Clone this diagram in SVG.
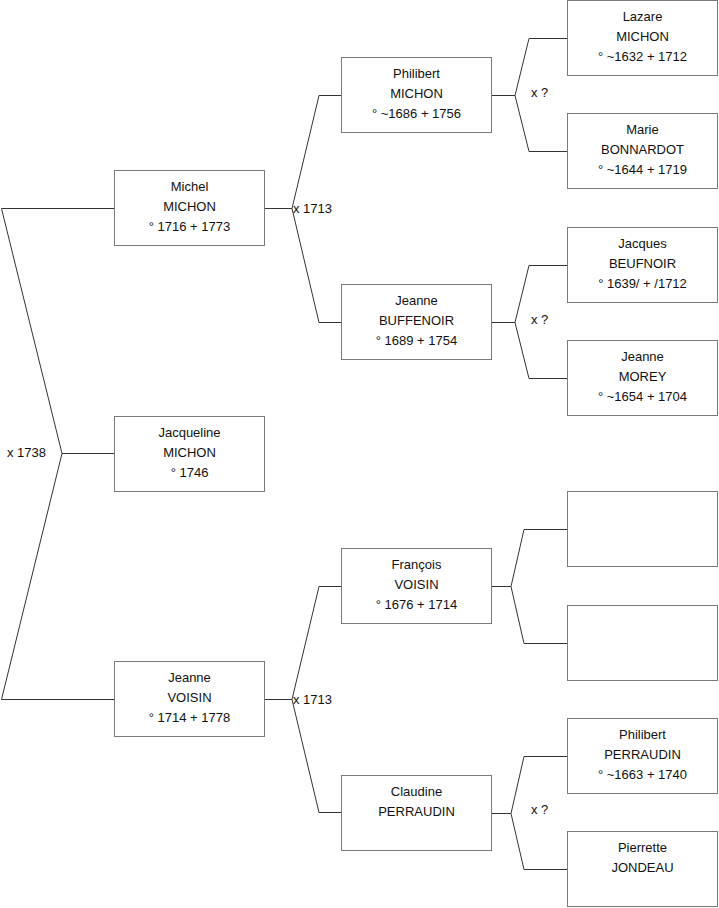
<svg xmlns="http://www.w3.org/2000/svg" width="719" height="908" viewBox="0 0 719 908">
<style>
.box{fill:#fff;stroke:#7a7a7a;stroke-width:1}
.t{font-family:"Liberation Sans",Arial,sans-serif;font-size:13px;fill:#111;text-anchor:middle}
.l{font-family:"Liberation Sans",Arial,sans-serif;font-size:13px;fill:#111}
.c{fill:none;stroke:#333;stroke-width:1}
</style>
<rect width="719" height="908" fill="#fff"/>
<g id="connectors">
<path class="c" d="M114,208.5 H1.5 L62,453.5 L1.5,699.5 H114 M62,453.5 H114"/>
<path class="c" d="M265,208.5 H292 M341,95.5 H319 L292,208.5 L319,322.5 H341"/>
<path class="c" d="M265,699.5 H292 M341,586.5 H319 L292,699.5 L319,812.5 H341"/>
<path class="c" d="M492,95.5 H515 M567,38.5 H529 L515,95.5 L529,151.5 H567"/>
<path class="c" d="M492,322.5 H515 M567,265.5 H529 L515,322.5 L529,378.5 H567"/>
<path class="c" d="M492,586.5 H511 M567,529.5 H524 L511,586.5 L524,643.5 H567"/>
<path class="c" d="M492,813.5 H511 M567,756.5 H524 L511,813.5 L524,869.5 H567"/>
<text class="l" x="7" y="457">x 1738</text>
<text class="l" x="293" y="213">x 1713</text>
<text class="l" x="293" y="704">x 1713</text>
<text class="l" x="531" y="97">x ?</text>
<text class="l" x="531" y="324">x ?</text>
<text class="l" x="531" y="814">x ?</text>
</g>
<g id="michel">
<rect class="box" x="114.5" y="170.5" width="150" height="75"/>
<text class="t" x="189.5" y="191">Michel</text>
<text class="t" x="189.5" y="211">MICHON</text>
<text class="t" x="189.5" y="231">° 1716 + 1773</text>
</g>
<g id="jacqueline">
<rect class="box" x="114.5" y="416.5" width="150" height="75"/>
<text class="t" x="189.5" y="437">Jacqueline</text>
<text class="t" x="189.5" y="457">MICHON</text>
<text class="t" x="189.5" y="477">° 1746</text>
</g>
<g id="jeanne-voisin">
<rect class="box" x="114.5" y="661.5" width="150" height="75"/>
<text class="t" x="189.5" y="682">Jeanne</text>
<text class="t" x="189.5" y="702">VOISIN</text>
<text class="t" x="189.5" y="722">° 1714 + 1778</text>
</g>
<g id="philibert-michon">
<rect class="box" x="341.5" y="57.5" width="150" height="75"/>
<text class="t" x="416.5" y="78">Philibert</text>
<text class="t" x="416.5" y="98">MICHON</text>
<text class="t" x="416.5" y="118">° ~1686 + 1756</text>
</g>
<g id="jeanne-buffenoir">
<rect class="box" x="341.5" y="284.5" width="150" height="75"/>
<text class="t" x="416.5" y="305">Jeanne</text>
<text class="t" x="416.5" y="325">BUFFENOIR</text>
<text class="t" x="416.5" y="345">° 1689 + 1754</text>
</g>
<g id="francois-voisin">
<rect class="box" x="341.5" y="548.5" width="150" height="75"/>
<text class="t" x="416.5" y="569">François</text>
<text class="t" x="416.5" y="589">VOISIN</text>
<text class="t" x="416.5" y="609">° 1676 + 1714</text>
</g>
<g id="claudine-perraudin">
<rect class="box" x="341.5" y="775.5" width="150" height="75"/>
<text class="t" x="416.5" y="796">Claudine</text>
<text class="t" x="416.5" y="816">PERRAUDIN</text>
</g>
<g id="lazare-michon">
<rect class="box" x="567.5" y="0.5" width="150" height="75"/>
<text class="t" x="642.5" y="21">Lazare</text>
<text class="t" x="642.5" y="41">MICHON</text>
<text class="t" x="642.5" y="61">° ~1632 + 1712</text>
</g>
<g id="marie-bonnardot">
<rect class="box" x="567.5" y="113.5" width="150" height="75"/>
<text class="t" x="642.5" y="134">Marie</text>
<text class="t" x="642.5" y="154">BONNARDOT</text>
<text class="t" x="642.5" y="174">° ~1644 + 1719</text>
</g>
<g id="jacques-beufnoir">
<rect class="box" x="567.5" y="227.5" width="150" height="75"/>
<text class="t" x="642.5" y="248">Jacques</text>
<text class="t" x="642.5" y="268">BEUFNOIR</text>
<text class="t" x="642.5" y="288">° 1639/ + /1712</text>
</g>
<g id="jeanne-morey">
<rect class="box" x="567.5" y="340.5" width="150" height="75"/>
<text class="t" x="642.5" y="361">Jeanne</text>
<text class="t" x="642.5" y="381">MOREY</text>
<text class="t" x="642.5" y="401">° ~1654 + 1704</text>
</g>
<g id="empty-1">
<rect class="box" x="567.5" y="491.5" width="150" height="75"/>
</g>
<g id="empty-2">
<rect class="box" x="567.5" y="605.5" width="150" height="75"/>
</g>
<g id="philibert-perraudin">
<rect class="box" x="567.5" y="718.5" width="150" height="75"/>
<text class="t" x="642.5" y="739">Philibert</text>
<text class="t" x="642.5" y="759">PERRAUDIN</text>
<text class="t" x="642.5" y="779">° ~1663 + 1740</text>
</g>
<g id="pierrette-jondeau">
<rect class="box" x="567.5" y="831.5" width="150" height="75"/>
<text class="t" x="642.5" y="852">Pierrette</text>
<text class="t" x="642.5" y="872">JONDEAU</text>
</g>
</svg>
